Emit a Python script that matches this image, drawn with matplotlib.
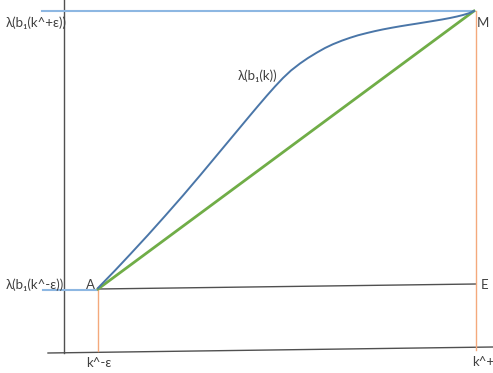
import matplotlib
matplotlib.use('Agg')
import matplotlib.pyplot as plt

# diagram drawn in pixel-like units (y grows downward)
curve_x = [98, 115, 130, 148, 165, 183, 200, 215, 230, 240, 250, 258, 267, 275, 283, 291, 300,
           308, 317, 325, 333, 342, 350, 358, 367, 375, 383, 392, 400, 408, 417, 425, 433, 442,
           450, 457, 463, 469, 474]
curve_y = [288, 270.5, 254.5, 235, 216, 195.5, 175.5, 157.5, 139.5, 127.5, 115.5, 106, 95.5,
           86.5, 78, 70.5, 63.5, 58, 52.5, 48, 44.2, 40.6, 37.8, 35.3, 33, 31.1, 29.4, 27.7,
           26.3, 25, 23.6, 22.3, 21, 19.5, 18, 16.5, 15, 13.2, 11]

point_A = (98, 289)
point_M = (474, 11)
point_E = (476, 284)

labels = {
    'top': 'λ(b₁(k^+ε))',
    'low': 'λ(b₁(k^-ε))',
    'curve': 'λ(b₁(k))',
    'k_low': 'k^-ε',
    'k_high': 'k^+',
}

plt.rcParams['font.family'] = ['Lato', 'DejaVu Sans']

fig = plt.figure(figsize=(4.93, 3.73), dpi=100)
ax = fig.add_axes([0, 0, 1, 1])
ax.set_xlim(0, 493)
ax.set_ylim(373, 0)
ax.axis('off')

axis_col = '#505050'
txt_col = '#404040'

# axes
ax.plot([64, 64], [0, 353], color=axis_col, lw=1)
ax.plot([48, 493], [353, 347], color=axis_col, lw=1)
# A-E line
ax.plot([point_A[0], point_E[0]], [point_A[1], point_E[1]], color=axis_col, lw=1)

# light blue guides
ax.plot([42, point_M[0]], [11, 11], color='#8db7e2', lw=1.5)
ax.plot([43, point_A[0]], [290, 290], color='#8db7e2', lw=1.5)

# orange verticals
ax.plot([98, 98], [290, 351], color='#f4a97c', lw=1)
ax.plot([476, 476], [11, 350], color='#f4a97c', lw=1)

# chord and curve
ax.plot([point_A[0], point_M[0]], [point_A[1], point_M[1]], color='#70ad47', lw=2)
ax.plot(curve_x, curve_y, color='#4a76a8', lw=1.4, solid_joinstyle='round')

fs = 9.5
ax.text(67, 23, labels['top'], ha='right', va='center', fontsize=fs, color=txt_col)
ax.text(64, 285, labels['low'], ha='right', va='center', fontsize=fs, color=txt_col)
ax.text(258, 76, labels['curve'], ha='center', va='center', fontsize=fs, color=txt_col)
ax.text(90, 285, 'A', ha='center', va='center', fontsize=fs, color=txt_col)
ax.text(485, 285, 'E', ha='center', va='center', fontsize=fs, color=txt_col)
ax.text(483, 23, 'M', ha='center', va='center', fontsize=fs, color=txt_col)
ax.text(99, 363, labels['k_low'], ha='center', va='center', fontsize=fs, color=txt_col)
ax.text(483, 362, labels['k_high'], ha='center', va='center', fontsize=fs, color=txt_col)

fig.savefig('out.png', dpi=100)
